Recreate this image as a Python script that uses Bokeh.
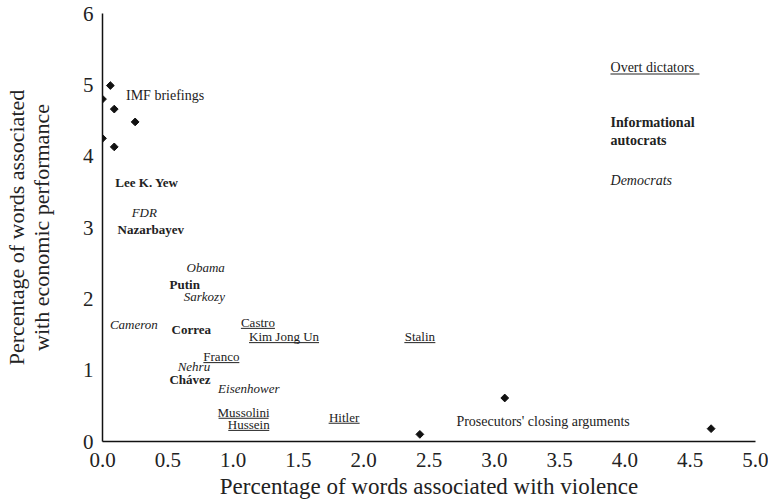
from bokeh.plotting import figure
from bokeh.models import Range1d, FixedTicker, Label
from bokeh.embed import file_html
from bokeh.resources import INLINE

# ---------------- data ----------------
imf_x = [0.06, 0.0, 0.09, 0.25, 0.0, 0.09]
imf_y = [4.99, 4.80, 4.66, 4.48, 4.25, 4.13]

pros_x = [3.08, 2.43, 4.66]
pros_y = [0.61, 0.10, 0.18]

auto_names = ["Lee K. Yew", "Nazarbayev", "Putin", "Correa", "Chávez"]
auto_x = [0.34, 0.37, 0.63, 0.68, 0.67]
auto_y = [3.63, 2.97, 2.20, 1.57, 0.87]

demo_names = ["FDR", "Obama", "Sarkozy", "Cameron", "Nehru", "Eisenhower"]
demo_x = [0.32, 0.79, 0.78, 0.24, 0.70, 1.12]
demo_y = [3.21, 2.44, 2.03, 1.64, 1.05, 0.74]

dict_names = ["Castro", "Kim Jong Un", "Franco", "Mussolini", "Hussein", "Hitler", "Stalin"]
dict_x = [1.19, 1.39, 0.91, 1.08, 1.12, 1.85, 2.43]
dict_y = [1.67, 1.47, 1.19, 0.41, 0.24, 0.34, 1.47]

imf_label = "IMF briefings"
imf_label_pos = (0.18, 4.85)
pros_label = "Prosecutors' closing arguments"
pros_label_pos = (2.71, 0.28)

key_x = 3.89
key_overt = ("Overt dictators", 5.25)
key_info = ("Informational\nautocrats", 4.34)
key_demo = ("Democrats", 3.66)

x_ticks = [0.0, 0.5, 1.0, 1.5, 2.0, 2.5, 3.0, 3.5, 4.0, 4.5, 5.0]
x_tick_labels = ["0.0", "0.5", "1.0", "1.5", "2.0", "2.5", "3.0", "3.5", "4.0", "4.5", "5.0"]
y_ticks = [0, 1, 2, 3, 4, 5, 6]
y_tick_labels = ["0", "1", "2", "3", "4", "5", "6"]

x_title = "Percentage of words associated with violence"
y_title = "Percentage of words associated\nwith economic performance"

# ---------------- style ----------------
W, H = 768, 502
BL, BR, BT, BB = 101, 13, 13, 61
FRAME_W, FRAME_H = W - BL - BR, H - BT - BB
XMIN, XMAX, YMIN, YMAX = 0.0, 5.0, 0.0, 6.0
PPU_X = FRAME_W / (XMAX - XMIN)
PPU_Y = FRAME_H / (YMAX - YMIN)

FONT = "'Liberation Serif', 'Times New Roman', serif"
TXT = "#222222"
LABEL_SIZE = "13px"
KEY_SIZE = "14px"
UNDER_GAP_PX = 6
dict_underline_px = [34, 70, 36, 50, 41, 31, 31]
overt_underline_px = 89

p = figure(width=W, height=H, output_backend="svg", toolbar_location=None,
           x_range=Range1d(XMIN, XMAX), y_range=Range1d(YMIN, YMAX),
           min_border_left=BL, min_border_right=BR, min_border_top=BT, min_border_bottom=BB)
p.outline_line_color = None
p.grid.visible = False
p.background_fill_color = "white"
p.border_fill_color = "white"

for ax in (p.xaxis[0], p.yaxis[0]):
    ax.axis_line_color = "#111111"
    ax.axis_line_width = 1.5
    ax.major_tick_line_color = None
    ax.minor_tick_line_color = None
    ax.major_tick_out = 0
    ax.major_tick_in = 0
    ax.major_label_text_font = FONT
    ax.major_label_text_font_size = "21px"
    ax.major_label_text_color = TXT
    ax.axis_label_text_font = FONT
    ax.axis_label_text_font_style = "normal"
    ax.axis_label_text_font_size = "23px"
    ax.axis_label_text_color = TXT

p.xaxis.ticker = FixedTicker(ticks=x_ticks)
p.xaxis.major_label_overrides = {t: l for t, l in zip(x_ticks, x_tick_labels)}
p.yaxis.ticker = FixedTicker(ticks=y_ticks)
p.yaxis.major_label_overrides = {t: l for t, l in zip(y_ticks, y_tick_labels)}
p.xaxis.axis_label = x_title
p.yaxis.axis_label = y_title
p.yaxis.axis_label_text_font_size = "22px"
p.yaxis.axis_label_text_line_height = 1.0
p.xaxis.major_label_standoff = 11
p.xaxis.axis_label_standoff = 4
p.yaxis.major_label_standoff = 9
p.yaxis.axis_label_standoff = 26

# diamonds
p.scatter(imf_x, imf_y, marker="square", angle=0.785398, size=5.5,
          fill_color="#111111", line_color="#111111")
p.scatter(pros_x, pros_y, marker="square", angle=0.785398, size=5.5,
          fill_color="#111111", line_color="#111111")


def add_label(x, y, text, size, style="normal", align="center"):
    p.add_layout(Label(x=x, y=y, text=text, text_font=FONT, text_font_size=size,
                       text_font_style=style, text_color=TXT, text_align=align,
                       text_baseline="middle"))


# leaders
for n, x, y in zip(auto_names, auto_x, auto_y):
    add_label(x, y, n, LABEL_SIZE, "bold")
for n, x, y in zip(demo_names, demo_x, demo_y):
    add_label(x, y, n, LABEL_SIZE, "italic")
for n, x, y in zip(dict_names, dict_x, dict_y):
    add_label(x, y, n, LABEL_SIZE, "normal")
p.scatter(dict_x, [y - UNDER_GAP_PX / PPU_Y for y in dict_y], marker="dash",
          size=dict_underline_px, line_color=TXT, line_width=1)

# group annotations
add_label(imf_label_pos[0], imf_label_pos[1], imf_label, KEY_SIZE, "normal", "left")
add_label(pros_label_pos[0], pros_label_pos[1], pros_label, KEY_SIZE, "normal", "left")

# key
add_label(key_x, key_overt[1], key_overt[0], KEY_SIZE, "normal", "left")
p.scatter([key_x + overt_underline_px / 2 / PPU_X], [key_overt[1] - (UNDER_GAP_PX + 1) / PPU_Y],
          marker="dash", size=overt_underline_px, line_color=TXT, line_width=1)
add_label(key_x, key_info[1], key_info[0], KEY_SIZE, "bold", "left")
add_label(key_x, key_demo[1], key_demo[0], KEY_SIZE, "italic", "left")

open("out.html", "w").write(file_html(p, INLINE))
